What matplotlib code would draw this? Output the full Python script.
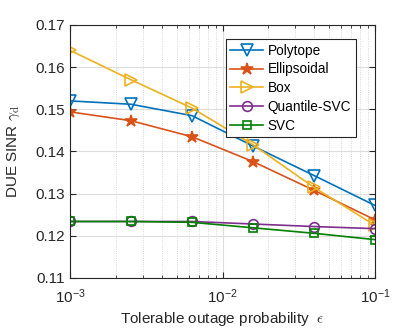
import numpy as np
import matplotlib
matplotlib.use("Agg")
import matplotlib.pyplot as plt

plt.rcParams['font.family'] = ['Liberation Sans', 'DejaVu Sans']
plt.rcParams['mathtext.fontset'] = 'cm'

eps = [1e-3, 10**-2.6, 10**-2.2, 10**-1.8, 10**-1.4, 1e-1]
polytope = [0.1520, 0.1512, 0.1485, 0.1413, 0.1343, 0.1272]
ellipsoidal = [0.1494, 0.1473, 0.1435, 0.1376, 0.1308, 0.1238]
box = [0.1640, 0.1570, 0.1503, 0.1416, 0.1315, 0.1225]
quantile_svc = [0.1234, 0.1234, 0.1234, 0.1228, 0.1222, 0.1217]
svc = [0.1234, 0.1234, 0.1232, 0.1219, 0.1206, 0.1191]

labels = ['Polytope', 'Ellipsoidal', 'Box', 'Quantile-SVC', 'SVC']
colors = ['#0072BD', '#D95319', '#EDB120', '#7E2F8E', '#008000']
markers = ['v', '*', '>', 'o', 's']
sizes = [8, 9, 8, 7, 6]
series = [polytope, ellipsoidal, box, quantile_svc, svc]

fig = plt.figure(figsize=(4.15, 3.32), dpi=100)
ax = fig.add_axes([0.1687, 0.1627, 0.7349, 0.762])

for y, lab, c, m, s in zip(series, labels, colors, markers, sizes):
    mfc = c if m == '*' else 'none'
    ax.plot(eps, y, color=c, marker=m, markersize=s, markerfacecolor=mfc,
            markeredgecolor=c, markeredgewidth=1.2, linewidth=1.2, label=lab)

ax.set_xscale('log')
ax.set_xlim(1e-3, 1e-1)
ax.set_ylim(0.11, 0.17)
ax.set_yticks([0.11, 0.12, 0.13, 0.14, 0.15, 0.16, 0.17])
ax.set_yticklabels(['0.11', '0.12', '0.13', '0.14', '0.15', '0.16', '0.17'])

ax.grid(True, which='major', color='#dddddd', linewidth=0.8, linestyle='-')
ax.grid(True, which='minor', color='#cccccc', linewidth=0.6, linestyle=':')
ax.set_axisbelow(True)
ax.tick_params(which='both', direction='in', top=True, right=True, labelsize=11, colors='#262626')
ax.tick_params(which='major', length=4)
ax.tick_params(which='minor', length=2)
ax.tick_params(axis='x', which='both', pad=7)
for sp in ax.spines.values():
    sp.set_color('#262626')
    sp.set_linewidth(0.8)

ax.set_xlabel(r'Tolerable outage probability  $\epsilon$', fontsize=11, color='#262626', labelpad=3)
ax.set_ylabel(r'DUE SINR $\gamma_\mathrm{d}$', fontsize=11, color='#262626', labelpad=10)

leg = ax.legend(loc='upper right', bbox_to_anchor=(0.938, 0.945), fontsize=9.8,
                fancybox=False, edgecolor='#262626', framealpha=1, borderaxespad=0,
                handlelength=2.4, handletextpad=0.35, borderpad=0.35, labelspacing=0.35)
leg.get_frame().set_linewidth(0.8)

fig.savefig('out.png', dpi=100)
